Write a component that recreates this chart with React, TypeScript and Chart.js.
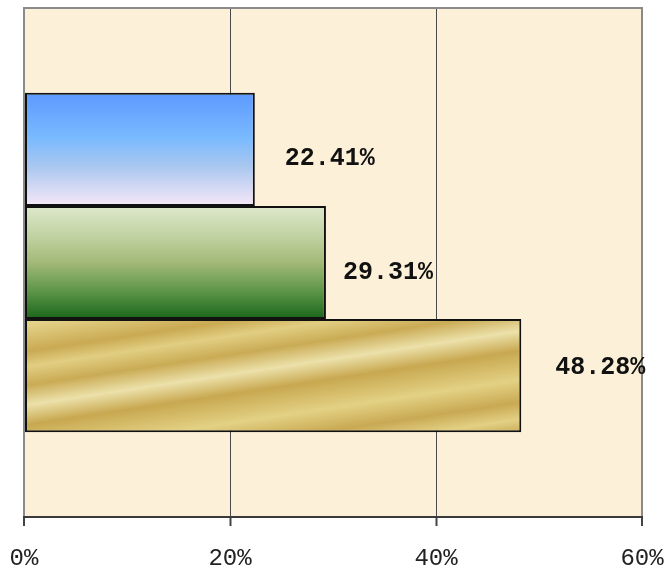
import React, { useEffect, useRef } from 'react';
import { Chart, registerables } from 'chart.js';

Chart.register(...registerables);

const categories = [''];
const seriesNames = ['Series 1', 'Series 2', 'Series 3'];
const values = [22.41, 29.31, 48.28];
const tickValues = [0, 20, 40, 60];
const tickLabels = ['0%', '20%', '40%', '60%'];

const CAT_PCT = 2 / 3;
const MONO = '"Liberation Mono", "Courier New", monospace';
const LABEL_OFFSETS = [
  { dx: 30, dy: 9 },
  { dx: 17, dy: 10.5 },
  { dx: 34, dy: -8 },
];

function barGeom(chart: any, i: number) {
  const ys = chart.scales.y;
  const xs = chart.scales.x;
  if (!ys || !xs || !chart.chartArea) return null;
  const band = (ys.bottom - ys.top) * CAT_PCT;
  const top = ys.getPixelForValue(0) - band / 2 + (i * band) / 3;
  const bottom = top + band / 3;
  const left = xs.getPixelForValue(0);
  const right = xs.getPixelForValue(values[i]);
  return { top, bottom, left, right };
}

function fillFor(i: number) {
  return (c: any) => {
    const chart = c.chart;
    const g = barGeom(chart, c.datasetIndex);
    const ctx = chart.ctx;
    if (!g) return '#ccc';
    if (i === 0) {
      const gr = ctx.createLinearGradient(0, g.top, 0, g.bottom);
      gr.addColorStop(0, '#5c99ff');
      gr.addColorStop(0.4, '#7abaff');
      gr.addColorStop(0.65, '#a9c7ef');
      gr.addColorStop(1, '#f7e8f8');
      return gr;
    }
    if (i === 1) {
      const gr = ctx.createLinearGradient(0, g.top, 0, g.bottom);
      gr.addColorStop(0, '#dde9cc');
      gr.addColorStop(0.3, '#bdcf9c');
      gr.addColorStop(0.5, '#a2b977');
      gr.addColorStop(0.75, '#5e9649');
      gr.addColorStop(1, '#1a661a');
      return gr;
    }
    const s = 0.15;
    const span = s * (g.right - g.left) + (g.bottom - g.top);
    const k = span / (1 + s * s);
    const gr = ctx.createLinearGradient(g.left, g.top, g.left + s * k, g.top + k);
    const stops: [number, string][] = [
      [0, '#e7d690'],
      [0.03, '#e4d28a'],
      [0.175, '#caaa52'],
      [0.255, '#e1ce82'],
      [0.355, '#caab55'],
      [0.46, '#ece1aa'],
      [0.565, '#c8a850'],
      [0.72, '#e3d184'],
      [0.84, '#c9a953'],
      [0.93, '#e2d084'],
      [1, '#cbac58'],
    ];
    stops.forEach(([p, col]) => gr.addColorStop(p, col));
    return gr;
  };
}

const framePlugin = {
  id: 'frame',
  beforeDraw(chart: any) {
    const { ctx, chartArea: a } = chart;
    ctx.save();
    ctx.fillStyle = '#fcf0d8';
    ctx.fillRect(a.left, a.top, a.right - a.left, a.bottom - a.top);
    ctx.restore();
  },
  beforeDatasetsDraw(chart: any) {
    const { ctx, chartArea: a } = chart;
    ctx.save();
    ctx.strokeStyle = '#8a8a8a';
    ctx.lineWidth = 2;
    ctx.beginPath();
    ctx.moveTo(a.left - 1, a.top);
    ctx.lineTo(a.right + 1, a.top);
    ctx.stroke();
    ctx.restore();
  },
  afterDatasetsDraw(chart: any) {
    const { ctx } = chart;
    ctx.save();
    ctx.font = 'bold 25px ' + MONO;
    ctx.fillStyle = '#111';
    ctx.textAlign = 'left';
    ctx.textBaseline = 'middle';
    values.forEach((v, i) => {
      const el = chart.getDatasetMeta(i).data[0];
      if (!el) return;
      const off = LABEL_OFFSETS[i];
      ctx.fillText(v.toFixed(2) + '%', el.x + off.dx, el.y + off.dy);
    });
    ctx.restore();
  },
};

export default function App() {
  const ref = useRef<HTMLCanvasElement>(null);
  useEffect(() => {
    if (!ref.current) return;
    const chart = new Chart(ref.current, {
      type: 'bar',
      data: {
        labels: categories,
        datasets: values.map((v, i) => ({
          label: seriesNames[i],
          data: [v],
          backgroundColor: fillFor(i),
          borderColor: '#111',
          borderWidth: 2,
          borderSkipped: false,
          categoryPercentage: CAT_PCT,
          barPercentage: 1,
        })),
      },
      options: {
        indexAxis: 'y',
        animation: false,
        responsive: false,
        maintainAspectRatio: false,
        layout: { padding: { left: 24, right: 24, top: 8, bottom: -23 } },
        plugins: { legend: { display: false }, tooltip: { enabled: false } },
        scales: {
          x: {
            type: 'linear',
            min: 0,
            max: 60,
            afterBuildTicks: (s: any) => {
              s.ticks = tickValues.map((v) => ({ value: v }));
            },
            ticks: {
              callback: (_v: any, idx: number) => tickLabels[idx],
              font: { family: MONO, size: 24, lineHeight: 62 / 24 },
              color: '#222',
              padding: 2,
              maxRotation: 0,
              autoSkip: false,
            },
            grid: {
              color: (c: any) => (c.index === 0 || c.index === tickValues.length - 1 ? '#8a8a8a' : '#4a4a4a'),
              lineWidth: (c: any) => (c.index === 0 || c.index === tickValues.length - 1 ? 2 : 1),
              tickColor: '#444',
              tickWidth: 2,
              tickLength: 9,
              drawTicks: true,
            },
            border: { display: true, color: '#3a3a3a', width: 2 },
          },
          y: { display: false },
        },
      },
      plugins: [framePlugin],
    } as any);
    return () => chart.destroy();
  }, []);
  return (
    <div style={{ position: 'absolute', left: 0, top: 0, width: 666, height: 569 }}>
      <canvas ref={ref} width={666} height={569} style={{ display: 'block' }} />
    </div>
  );
}
